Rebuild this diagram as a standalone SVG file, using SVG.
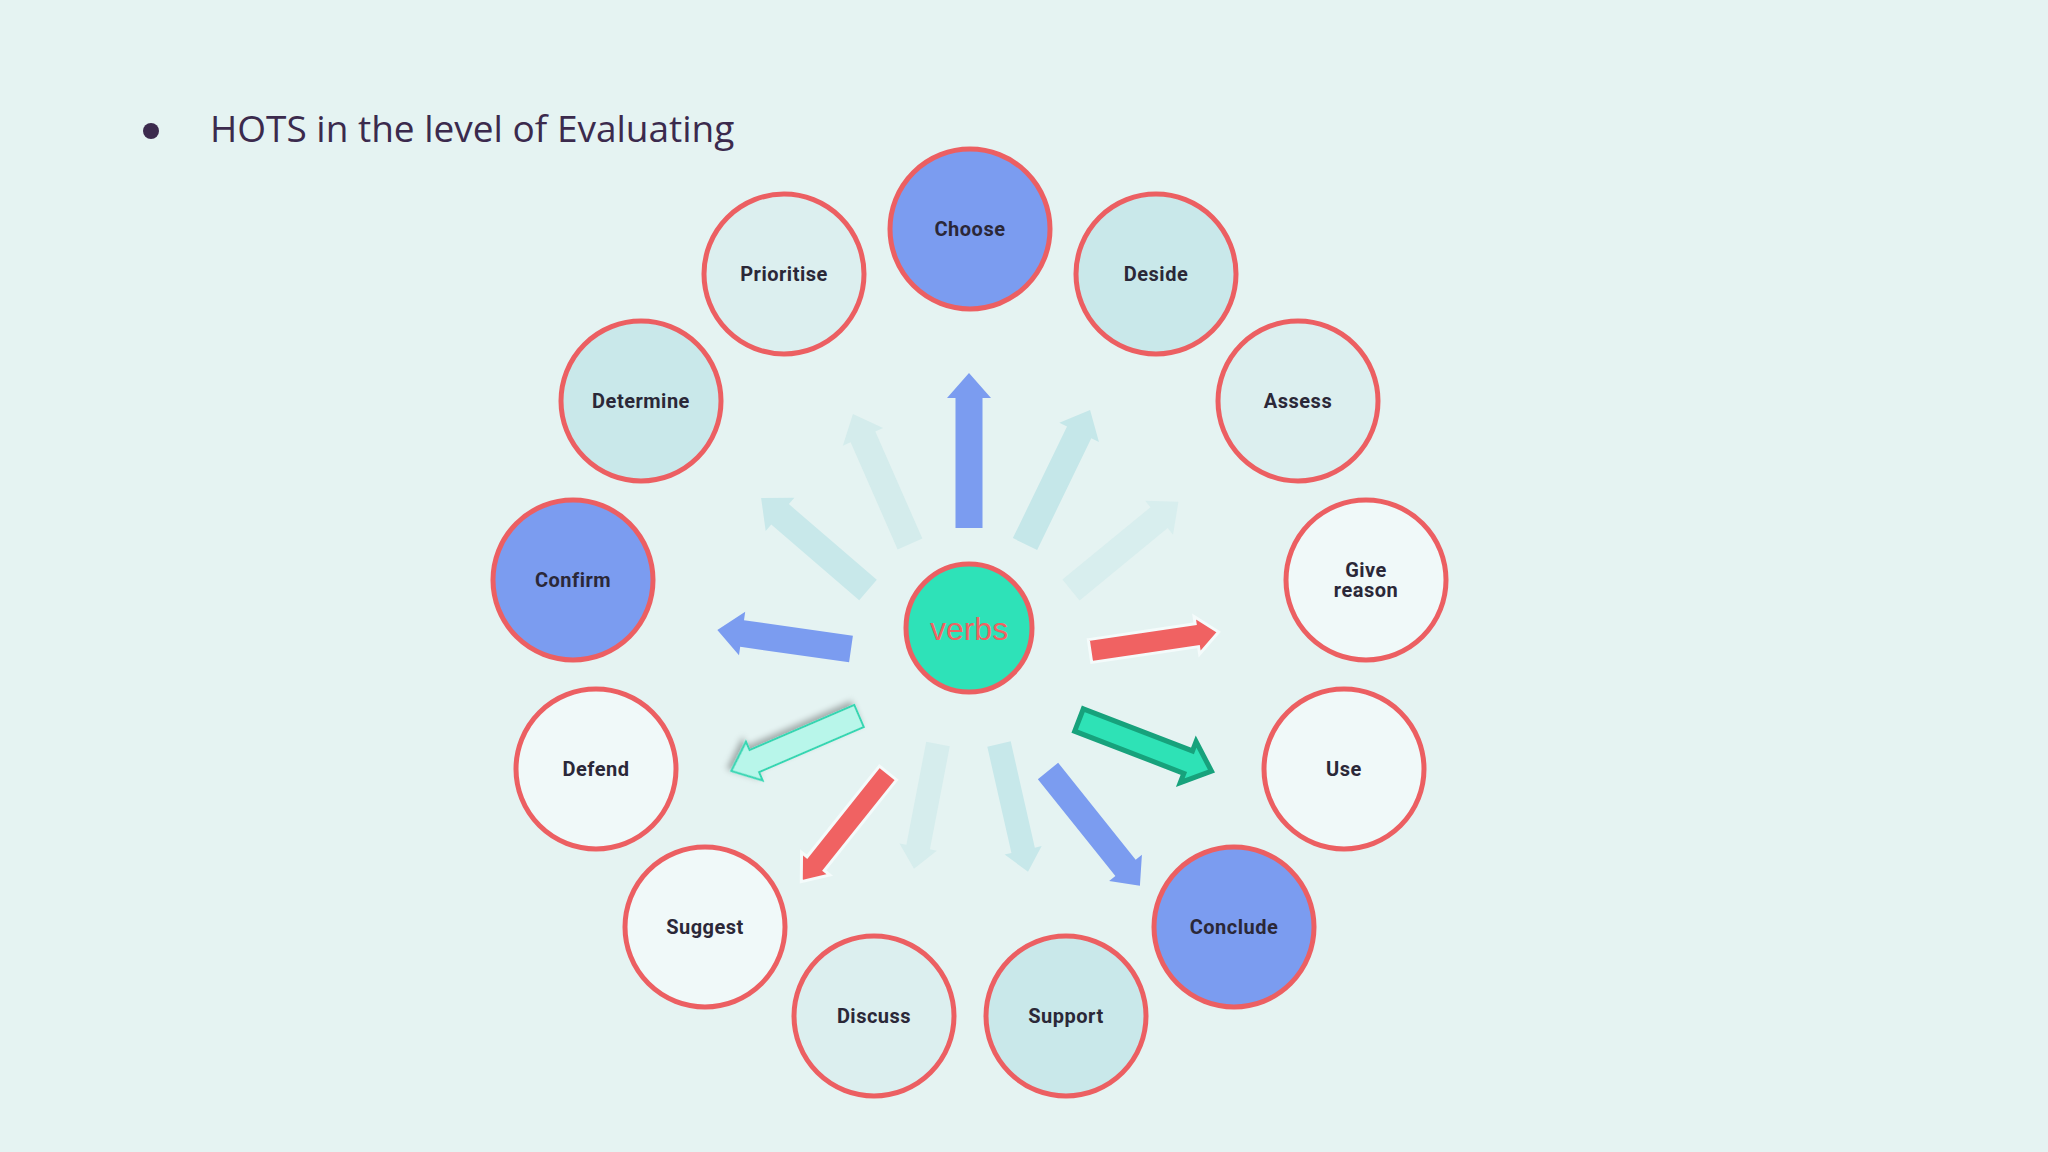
<svg xmlns="http://www.w3.org/2000/svg" width="2048" height="1152" viewBox="0 0 2048 1152">
<style>
.n{stroke:#ec5f62;stroke-width:5}
.t{font-family:Roboto,"Open Sans",sans-serif;font-weight:bold;font-size:20px;fill:#2b2838;text-anchor:middle;letter-spacing:0.5px}
.blue{fill:#7b9cf0}.lt{fill:#c9e8ea}.pl{fill:#dcefef}.wh{fill:#f0f9f9}
</style>
<defs>
<filter id="sh" x="-20%" y="-40%" width="140%" height="180%"><feDropShadow dx="2" dy="4" stdDeviation="3" flood-color="#000" flood-opacity="0.3"/></filter>
</defs>
<rect width="2048" height="1152" fill="#e5f3f2"/>
<circle cx="151" cy="131" r="8" fill="#3b2a4d"/>
<text x="210" y="142" font-family="'Open Sans','Liberation Sans',sans-serif" font-size="37" fill="#3b2a4d">HOTS in the level of Evaluating</text>
<g id="connectors">
<path transform="translate(969,528) rotate(-90)" d="M0,-13.5H130V-22L155,0L130,22V13.5H0Z" fill="#7b9cf0"/>
<path transform="translate(910,544) rotate(-113.7)" d="M0,-13.5H117V-22L142,0L117,22V13.5H0Z" fill="#d4ecec"/>
<path transform="translate(1025,544) rotate(-64.1)" d="M0,-13.5H124V-22L149,0L124,22V13.5H0Z" fill="#c5e7e9"/>
<path transform="translate(1071,590) rotate(-39.4)" d="M0,-13.5H114V-22L139,0L114,22V13.5H0Z" fill="#d8eeee"/>
<path transform="translate(868,590) rotate(-139.3)" d="M0,-13.5H116V-22L141,0L116,22V13.5H0Z" fill="#c8e8ea"/>
<path transform="translate(851,649) rotate(-171.9)" d="M0,-13.5H110V-22L135,0L110,22V13.5H0Z" fill="#7b9cf0"/>
<path transform="translate(1090,651) rotate(-8.4)" d="M0,-11.5H108V-19L130,0L108,19V11.5H0Z" fill="#f06262" stroke="#f4fbfb" stroke-width="3"/>
<path transform="translate(859,716) rotate(156.7)" d="M0,-12H114V-21L139,0L114,21V12H0Z" fill="#b8f6ea" stroke="#34d6b2" stroke-width="2" filter="url(#sh)"/>
<path transform="translate(1079,720) rotate(21.1)" d="M0,-12H117V-22L142,0L117,22V12H0Z" fill="#2ee2b6" stroke="#17a27c" stroke-width="5"/>
<path transform="translate(888,773) rotate(128.6)" d="M0,-11H116V-18L139,0L116,18V11H0Z" fill="#f06262" stroke="#f4fbfb" stroke-width="3"/>
<path transform="translate(1048,771) rotate(51.3)" d="M0,-13H124V-21L147,0L124,21V13H0Z" fill="#7b9cf0"/>
<path transform="translate(938,744) rotate(100.9)" d="M0,-12H105V-19L127,0L105,19V12H0Z" fill="#d6eded"/>
<path transform="translate(999,744) rotate(77.2)" d="M0,-12H109V-19L131,0L109,19V12H0Z" fill="#c7e8ea"/>
</g>
<g id="verbs"><ellipse cx="969" cy="628" rx="63" ry="64" fill="#2ee2b8" stroke="#ec5f62" stroke-width="5"/><text x="969" y="640" font-family="'Liberation Sans',Arial,sans-serif" font-size="32" fill="#f06262" text-anchor="middle">verbs</text></g>
<g id="choose"><circle class="n blue" cx="970" cy="229" r="80"/><text class="t" x="970" y="236">Choose</text></g>
<g id="prioritise"><circle class="n pl" cx="784" cy="274" r="80"/><text class="t" x="784" y="281">Prioritise</text></g>
<g id="deside"><circle class="n lt" cx="1156" cy="274" r="80"/><text class="t" x="1156" y="281">Deside</text></g>
<g id="determine"><circle class="n lt" cx="641" cy="401" r="80"/><text class="t" x="641" y="408">Determine</text></g>
<g id="assess"><circle class="n pl" cx="1298" cy="401" r="80"/><text class="t" x="1298" y="408">Assess</text></g>
<g id="confirm"><circle class="n blue" cx="573" cy="580" r="80"/><text class="t" x="573" y="587">Confirm</text></g>
<g id="givereason"><circle class="n wh" cx="1366" cy="580" r="80"/><text class="t" x="1366" y="577">Give</text><text class="t" x="1366" y="597">reason</text></g>
<g id="defend"><circle class="n wh" cx="596" cy="769" r="80"/><text class="t" x="596" y="776">Defend</text></g>
<g id="use"><circle class="n wh" cx="1344" cy="769" r="80"/><text class="t" x="1344" y="776">Use</text></g>
<g id="suggest"><circle class="n wh" cx="705" cy="927" r="80"/><text class="t" x="705" y="934">Suggest</text></g>
<g id="conclude"><circle class="n blue" cx="1234" cy="927" r="80"/><text class="t" x="1234" y="934">Conclude</text></g>
<g id="discuss"><circle class="n pl" cx="874" cy="1016" r="80"/><text class="t" x="874" y="1023">Discuss</text></g>
<g id="support"><circle class="n lt" cx="1066" cy="1016" r="80"/><text class="t" x="1066" y="1023">Support</text></g>
</svg>
